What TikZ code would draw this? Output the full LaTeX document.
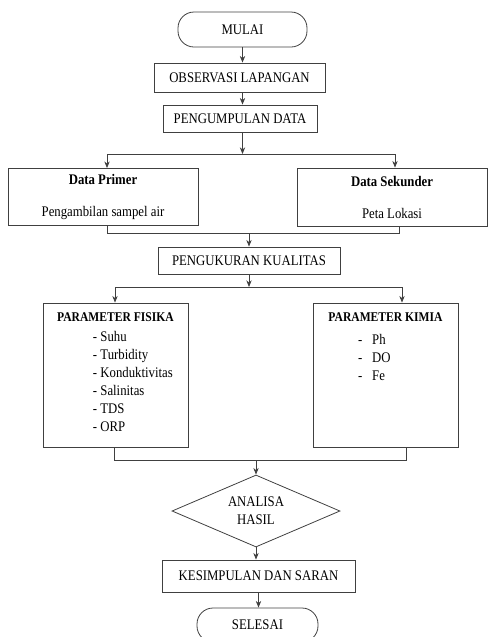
\documentclass[tikz,border=0pt]{standalone}
\usepackage{fontspec}
\setmainfont{Liberation Serif}[FakeStretch=0.87]
\usetikzlibrary{positioning}
\usetikzlibrary{shapes.geometric}
\usetikzlibrary{arrows.meta}
\tikzset{
  box/.style            = { rectangle, inner sep=0pt },
  border/.style         = { line width=0.6pt, draw=black!75 },
  round/.style          = { rounded corners=12pt },
}
\tikzset{
  terminal/.style       = { box, border, round },
  process/.style        = { box, border, align=center },
  decision/.style       = { diamond, border, aspect=2.3, inner sep=0pt, align=center },
  title/.style          = { font=\fontsize{10}{13.5}\selectfont\bfseries }
}

\begin{document}
\begin{tikzpicture}[
  x=0.75pt,y=-0.75pt,
  >={Stealth[length=5pt,width=4pt]},line width=0.6pt,black!75,text=black,
  font=\fontsize{11}{13.5}\selectfont
]
  \useasboundingbox (0,0) rectangle (489,637);

  \node (mulai)    [terminal,minimum width=96.75pt,minimum height=26.25pt] at (242.5,29.5)  {MULAI};
  \node (obs)      [process,minimum width=128.25pt,minimum height=21.75pt] at (239.5,77.5)  {OBSERVASI LAPANGAN};
  \node (kumpul)   [process,minimum width=115.5pt,minimum height=20.25pt]  at (240,118.5)   {PENGUMPULAN DATA};

  \node (primer)   [process,minimum width=142.5pt,minimum height=42.75pt]  at (103,197)     {\textbf{Data Primer}\\[10.5pt]Pengambilan sampel air};
  \node (sekunder) [process,minimum width=142.5pt,minimum height=43.5pt]   at (392,197)     {\textbf{Data Sekunder}\\[10.5pt]Peta Lokasi};

  \node (ukur)     [process,minimum width=136.5pt,minimum height=20.25pt]  at (249,260.5)   {PENGUKURAN KUALITAS};

  \node (fisika)   [box,border] at (115.5,375) {%
    \begin{minipage}[t][108pt][t]{108.75pt}
      \vspace*{7pt}
      {\centering\fontsize{10}{13.5}\selectfont\bfseries PARAMETER FISIKA\par}
      \vspace{1.5pt}
      \raggedright\leftskip=37.5pt
      - Suhu\par
      - Turbidity\par
      - Konduktivitas\par
      - Salinitas\par
      - TDS\par
      - ORP\par
    \end{minipage}};
  \node (kimia)    [box,border] at (385.5,375) {%
    \begin{minipage}[t][108pt][t]{108.75pt}
      \vspace*{7pt}
      {\centering\fontsize{10}{13.5}\selectfont\bfseries PARAMETER KIMIA\par}
      \vspace{3.75pt}
      \raggedright\leftskip=33.75pt
      -\hspace{7.5pt}Ph\par
      -\hspace{7.5pt}DO\par
      -\hspace{7.5pt}Fe\par
    \end{minipage}};

  \node (analisa)  [decision,minimum width=126pt,minimum height=54pt]      at (256,511)     {ANALISA\\HASIL};
  \node (simpul)   [process,minimum width=144.75pt,minimum height=24pt]    at (258.5,576)   {KESIMPULAN DAN SARAN};
  \node (selesai)  [terminal,minimum width=90.75pt,minimum height=25.5pt]  at (257.5,625)   {SELESAI};

  % split and merge points
  \coordinate (sp1l) at (107,154);
  \coordinate (sp1r) at (395,154);
  \coordinate (mg1l) at (107,233);
  \coordinate (mg1r) at (399,233);
  \coordinate (sp2l) at (115,287);
  \coordinate (sp2r) at (402,287);
  \coordinate (mg2l) at (114,460);
  \coordinate (mg2r) at (406,460);

  \draw [->] (mulai)              -- (mulai |- obs.north);
  \draw [->] (obs.south -| mulai) -- (mulai |- kumpul.north);
  \draw [->] (kumpul.south -| mulai) -- (mulai |- sp1l);
  \draw      (sp1l)               -- (sp1r);
  \draw [->] (sp1l)               -- (sp1l |- primer.north);
  \draw [->] (sp1r)               -- (sp1r |- sekunder.north);

  \draw      (primer.south -| mg1l) -- (mg1l) -- (mg1r) -- (sekunder.south -| mg1r);
  \draw [->] (ukur |- mg1l)       -- (ukur);

  \draw [->] (ukur)               -- (ukur |- sp2l);
  \draw      (sp2l)               -- (sp2r);
  \draw [->] (sp2l)               -- (sp2l |- fisika.north);
  \draw [->] (sp2r)               -- (sp2r |- kimia.north);

  \draw      (fisika.south -| mg2l) -- (mg2l) -- (mg2r) -- (kimia.south -| mg2r);
  \draw [->] (analisa |- mg2l)    -- (analisa);
  \draw [->] (analisa.south)      -- (analisa.south |- simpul.north);
  \draw [->] (simpul)             -- (simpul |- selesai.north);
\end{tikzpicture}
\end{document}
